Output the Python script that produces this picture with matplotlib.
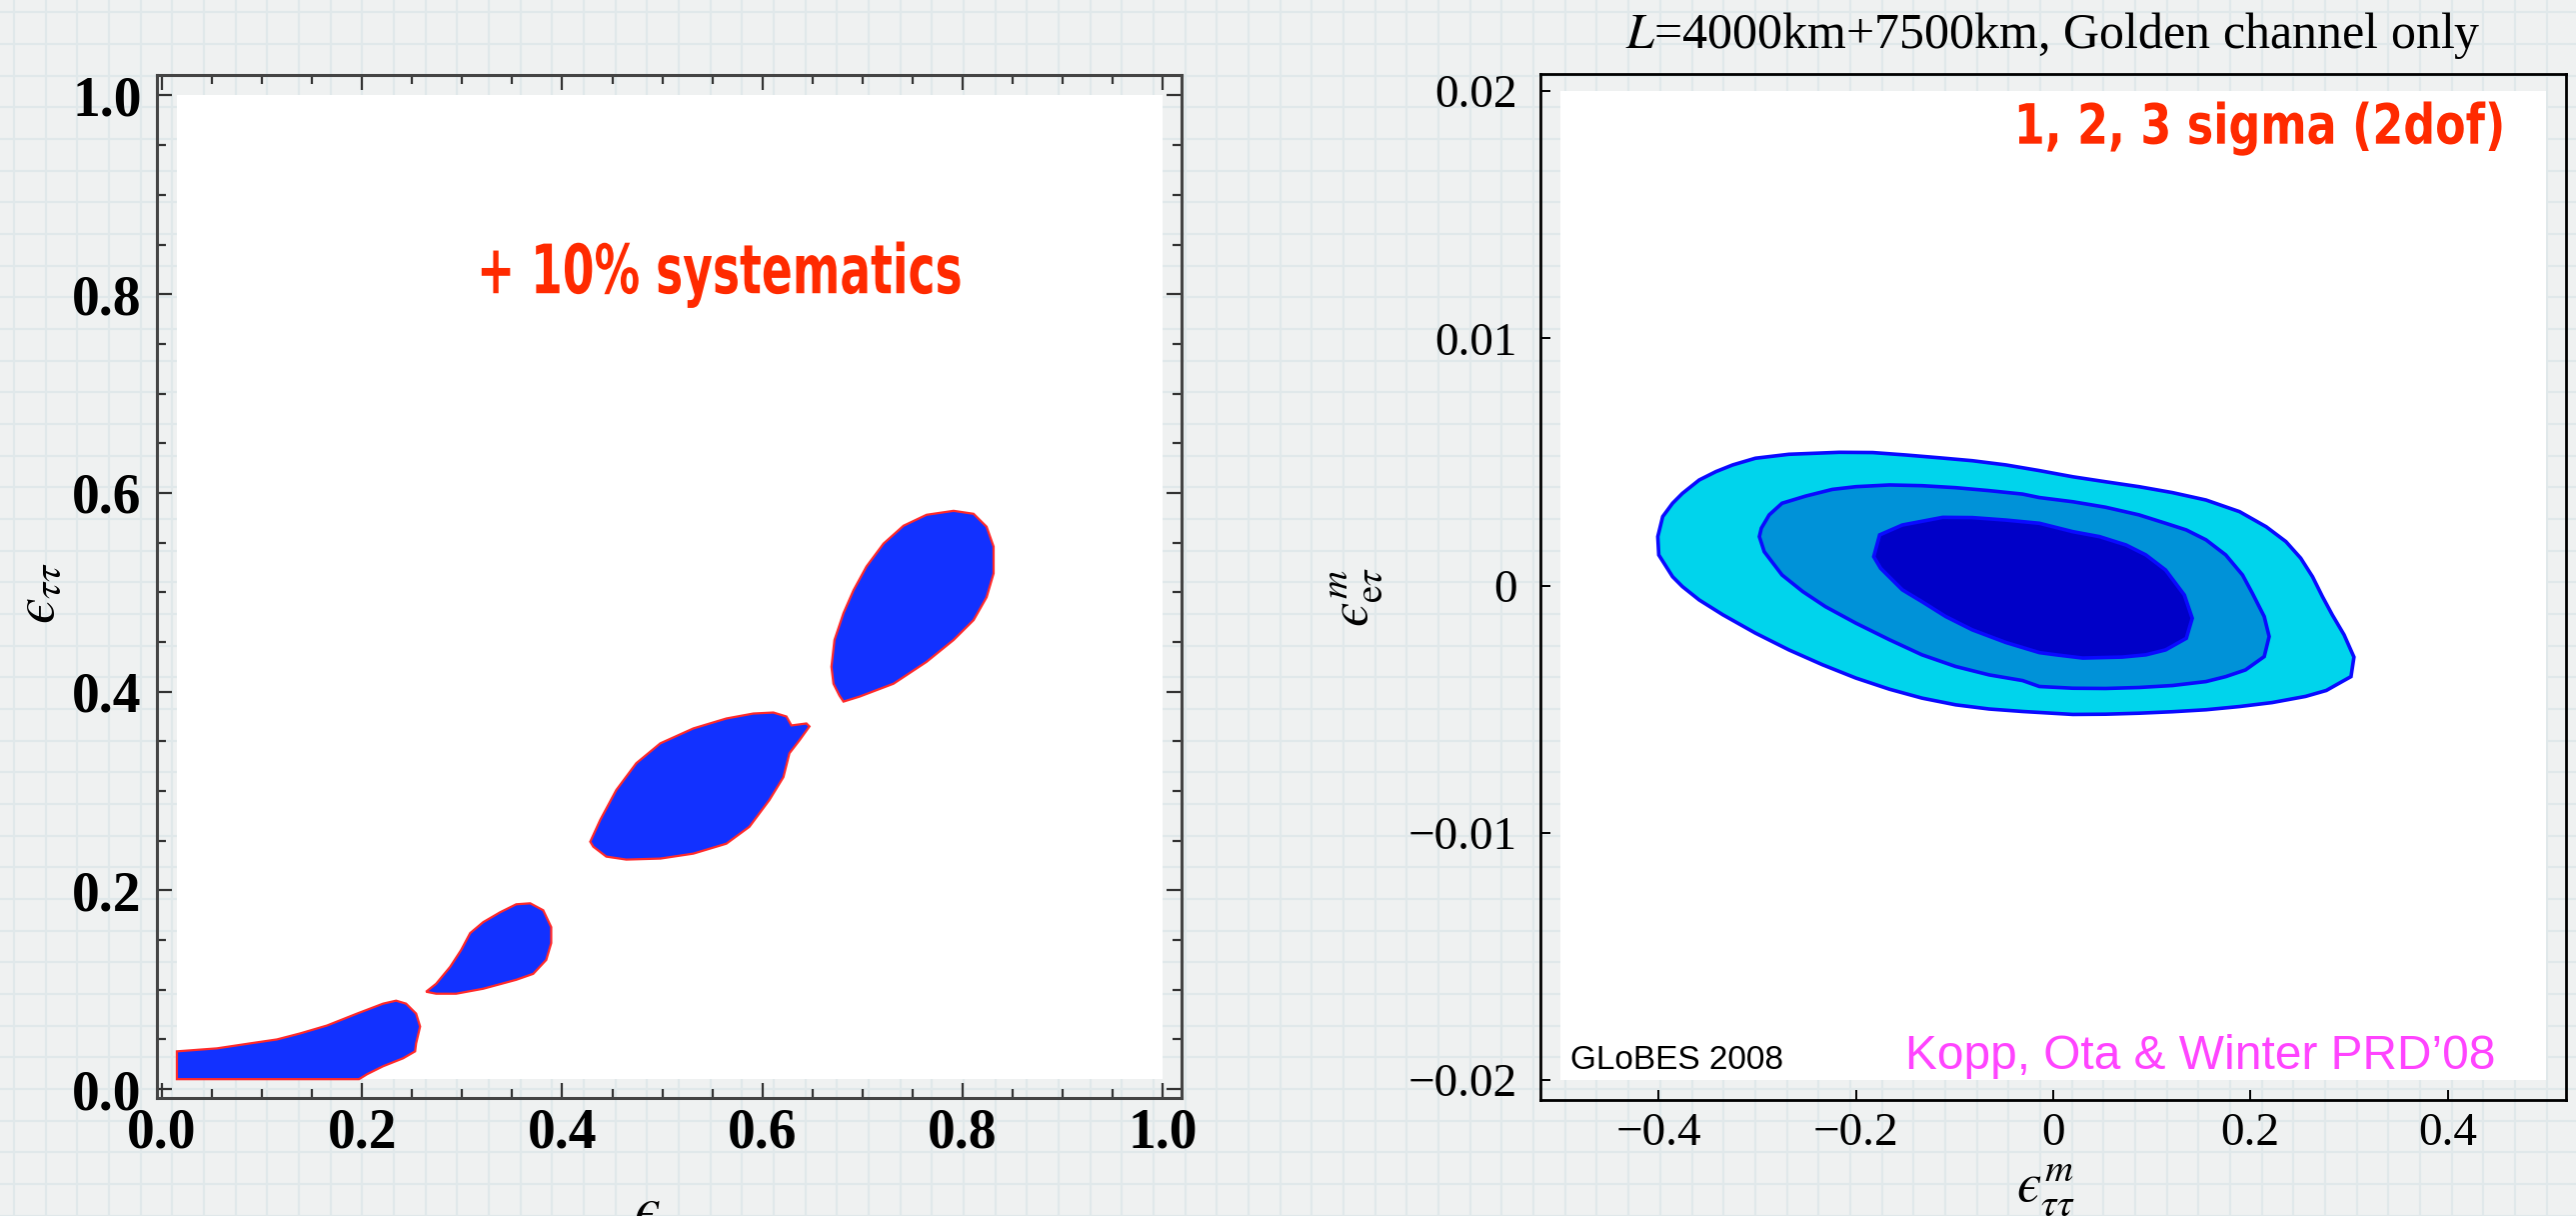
import matplotlib
matplotlib.use("Agg")
import matplotlib.pyplot as plt
import numpy as np
from matplotlib.patches import Rectangle, Polygon
from matplotlib.patheffects import AbstractPathEffect
from matplotlib.transforms import Affine2D

plt.rcParams['mathtext.fontset'] = 'stix'

# ---- left panel: allowed regions in the (eps, eps_tautau) plane, +10% systematics ----
left_ticks = [0.0, 0.2, 0.4, 0.6, 0.8, 1.0]
left_tick_labels = ['0.0', '0.2', '0.4', '0.6', '0.8', '1.0']

blob1_x = [0.015, 0.055, 0.088, 0.115, 0.138, 0.165, 0.195, 0.221, 0.234, 0.244,
           0.254, 0.258, 0.254, 0.253, 0.241, 0.221, 0.205, 0.197, 0.015]
blob1_y = [0.038, 0.041, 0.046, 0.050, 0.056, 0.064, 0.076, 0.086, 0.089, 0.086,
           0.076, 0.063, 0.046, 0.038, 0.031, 0.023, 0.015, 0.010, 0.010]

blob2_x = [0.264, 0.274, 0.288, 0.299, 0.308, 0.321, 0.338, 0.354, 0.368, 0.381,
           0.389, 0.389, 0.384, 0.371, 0.354, 0.321, 0.294, 0.274]
blob2_y = [0.098, 0.106, 0.123, 0.140, 0.157, 0.168, 0.178, 0.186, 0.187, 0.180,
           0.163, 0.147, 0.130, 0.116, 0.110, 0.101, 0.096, 0.096]

blob3_x = [0.428, 0.438, 0.454, 0.474, 0.498, 0.531, 0.564, 0.591, 0.611, 0.624,
           0.629, 0.644, 0.647, 0.637, 0.627, 0.621, 0.607, 0.587, 0.564, 0.531,
           0.498, 0.464, 0.444, 0.431]
blob3_y = [0.249, 0.271, 0.301, 0.328, 0.348, 0.363, 0.373, 0.378, 0.379, 0.375,
           0.366, 0.368, 0.365, 0.351, 0.338, 0.314, 0.291, 0.264, 0.247, 0.237,
           0.232, 0.231, 0.234, 0.244]

blob4_x = [0.681, 0.677, 0.671, 0.669, 0.672, 0.681, 0.691, 0.704, 0.721, 0.741,
           0.764, 0.791, 0.811, 0.824, 0.831, 0.831, 0.824, 0.811, 0.791, 0.764,
           0.731, 0.697]
blob4_y = [0.390, 0.396, 0.408, 0.425, 0.452, 0.479, 0.502, 0.526, 0.549, 0.567,
           0.578, 0.582, 0.579, 0.566, 0.546, 0.519, 0.495, 0.472, 0.452, 0.430,
           0.408, 0.395]

# ---- right panel: 1, 2, 3 sigma contours in (eps^m_tautau, eps^m_etau) ----
right_xticks = [-0.4, -0.2, 0.0, 0.2, 0.4]
right_xtick_labels = ['\u22120.4', '\u22120.2', '0', '0.2', '0.4']
right_yticks = [-0.02, -0.01, 0.0, 0.01, 0.02]
right_ytick_labels = ['\u22120.02', '\u22120.01', '0', '0.01', '0.02']

sig3_x = [-0.401, -0.396, -0.386, -0.376, -0.359, -0.342, -0.325, -0.302, -0.268,
          -0.217, -0.183, -0.149, -0.116, -0.082, -0.048, -0.014, 0.020, 0.053,
          0.087, 0.121, 0.155, 0.189, 0.216, 0.236, 0.251, 0.263, 0.273, 0.283,
          0.295, 0.305, 0.302, 0.293, 0.277, 0.256, 0.222, 0.189, 0.155, 0.121,
          0.087, 0.053, 0.020, -0.014, -0.031, -0.065, -0.099, -0.133, -0.166,
          -0.200, -0.234, -0.268, -0.302, -0.335, -0.359, -0.376, -0.386, -0.400]
sig3_y = [0.00198, 0.00279, 0.00333, 0.00373, 0.00427, 0.00461, 0.00488, 0.00515,
          0.00531, 0.00539, 0.00538, 0.00528, 0.00517, 0.00505, 0.00488, 0.00465,
          0.00440, 0.00420, 0.00400, 0.00376, 0.00346, 0.00299, 0.00238, 0.00178,
          0.00111, 0.00036, -0.00044, -0.00118, -0.00199, -0.00289, -0.00368,
          -0.00388, -0.00424, -0.00448, -0.00473, -0.00489, -0.00502, -0.00510,
          -0.00516, -0.00520, -0.00521, -0.00513, -0.00509, -0.00499, -0.00482,
          -0.00455, -0.00419, -0.00374, -0.00320, -0.00260, -0.00192, -0.00118,
          -0.00058, -0.00004, 0.00036, 0.00124]

sig2_x = [-0.298, -0.296, -0.288, -0.275, -0.251, -0.224, -0.200, -0.166, -0.133,
          -0.099, -0.065, -0.031, -0.014, 0.020, 0.053, 0.087, 0.114, 0.135, 0.155,
          0.175, 0.192, 0.202, 0.214, 0.219, 0.214, 0.195, 0.175, 0.155, 0.121,
          0.087, 0.053, 0.020, -0.014, -0.031, -0.065, -0.099, -0.133, -0.166,
          -0.200, -0.231, -0.254, -0.275, -0.293]
sig2_y = [0.00198, 0.00232, 0.00286, 0.00333, 0.00362, 0.00389, 0.00400, 0.00407,
          0.00404, 0.00396, 0.00384, 0.00370, 0.00356, 0.00339, 0.00317, 0.00286,
          0.00252, 0.00225, 0.00185, 0.00124, 0.00043, -0.00031, -0.00125, -0.00206,
          -0.00287, -0.00341, -0.00368, -0.00388, -0.00404, -0.00412, -0.00416,
          -0.00415, -0.00408, -0.00384, -0.00361, -0.00327, -0.00280, -0.00219,
          -0.00152, -0.00085, -0.00024, 0.00043, 0.00137]

sig1_x = [-0.182, -0.176, -0.153, -0.112, -0.082, -0.048, -0.014, 0.020, 0.047,
          0.074, 0.094, 0.114, 0.133, 0.141, 0.135, 0.114, 0.094, 0.070, 0.030,
          0.003, -0.014, -0.048, -0.082, -0.109, -0.133, -0.153, -0.175]
sig1_y = [0.00117, 0.00205, 0.00245, 0.00276, 0.00275, 0.00265, 0.00252, 0.00218,
          0.00198, 0.00164, 0.00124, 0.00063, -0.00038, -0.00132, -0.00213, -0.00260,
          -0.00280, -0.00289, -0.00293, -0.00280, -0.00271, -0.00230, -0.00179,
          -0.00125, -0.00065, -0.00017, 0.00070]

serif = 'Liberation Serif'


class Condensed(AbstractPathEffect):
    """Squeeze text glyphs horizontally about its left, centre or right end."""

    def __init__(self, sx, anchor='left'):
        super().__init__()
        self.sx = sx
        self.anchor = anchor

    def draw_path(self, renderer, gc, tpath, affine, rgbFace=None):
        ext = tpath.get_extents()
        x0 = {'left': ext.x0, 'center': 0.5 * (ext.x0 + ext.x1),
              'right': ext.x1}[self.anchor]
        squeeze = Affine2D().translate(-x0, 0).scale(self.sx, 1.0).translate(x0, 0)
        renderer.draw_path(gc, tpath, squeeze + affine, rgbFace)


fig = plt.figure(figsize=(25.77, 12.16), dpi=100)
fig.patch.set_facecolor('#eff1f1')

# graph-paper background
bg = fig.add_axes([0, 0, 1, 1], zorder=-10)
bg.set_xlim(0, 2577)
bg.set_ylim(1216, 0)
bg.axis('off')
for gx in np.arange(14, 2577, 31.67):
    bg.axvline(gx, color='#e0e8ea', lw=1.6)
for gy in np.arange(12.3, 1216, 31.67):
    bg.axhline(gy, color='#e0e8ea', lw=1.6)

# ---------------- left panel ----------------
ax1 = fig.add_axes([0.0609, 0.0970, 0.3977, 0.8413])
ax1.set_facecolor('none')
ax1.set_xlim(-0.005, 1.0186)
ax1.set_ylim(-0.009, 1.0206)
ax1.add_patch(Rectangle((0.015, 0.01), 0.985, 0.99, facecolor='white',
                        edgecolor='none', zorder=0))
for bx, by in [(blob1_x, blob1_y), (blob2_x, blob2_y),
               (blob3_x, blob3_y), (blob4_x, blob4_y)]:
    ax1.add_patch(Polygon(np.column_stack([bx, by]), closed=True,
                          facecolor='#1231ff', edgecolor='#ff2a2a',
                          lw=1.6, zorder=2))

ax1.set_xticks(left_ticks)
ax1.set_xticklabels(left_tick_labels)
ax1.set_yticks(left_ticks)
ax1.set_yticklabels(left_tick_labels)
ax1.set_xticks(np.arange(0, 1.001, 0.05), minor=True)
ax1.set_yticks(np.arange(0, 1.001, 0.05), minor=True)
ax1.tick_params(which='both', direction='in', top=True, right=True,
                color='#333333', width=1.6)
ax1.tick_params(which='major', length=11)
ax1.tick_params(which='minor', length=6.5)
ax1.tick_params(axis='x', pad=7)
ax1.tick_params(axis='y', pad=11)
for lab in ax1.get_xticklabels() + ax1.get_yticklabels():
    lab.set_fontfamily(serif)
    lab.set_fontweight('bold')
    lab.set_fontsize(40)
for sp in ax1.spines.values():
    sp.set_color('#444444')
    sp.set_linewidth(2.2)

ax1.text(-0.116, 0.494, r'$ϵ_{\tau\tau}$', transform=ax1.transAxes,
         rotation=90, ha='center', va='center', fontsize=42)
ax1.text(0.478, -0.11, r'$ϵ$', transform=ax1.transAxes,
         ha='center', va='center', fontsize=42)
ax1.text(0.556, 0.801, '+ 10% systematics', color='#ff2a00', fontsize=49,
         fontweight='bold', family='DejaVu Sans', ha='center', va='baseline',
         path_effects=[Condensed(0.67, 'center')])

# ---------------- right panel ----------------
ax2 = fig.add_axes([0.598, 0.0954, 0.3981, 0.844])
ax2.set_facecolor('none')
ax2.set_xlim(-0.52, 0.52)
ax2.set_ylim(-0.0208, 0.0207)
ax2.add_patch(Rectangle((-0.5, -0.02), 1.0, 0.04, facecolor='white',
                        edgecolor='none', zorder=0))
for cx, cy, col in [(sig3_x, sig3_y, '#00d4ec'),
                    (sig2_x, sig2_y, '#0092d8'),
                    (sig1_x, sig1_y, '#0000c8')]:
    ax2.fill(cx, cy, facecolor=col, edgecolor='#0a0aff', lw=2.6, zorder=2)

ax2.set_xticks(right_xticks)
ax2.set_xticklabels(right_xtick_labels)
ax2.set_yticks(right_yticks)
ax2.set_yticklabels(right_ytick_labels)
ax2.tick_params(direction='in', length=7, width=1.4, color='black')
ax2.tick_params(axis='x', pad=9)
ax2.tick_params(axis='y', pad=17)
for lab in ax2.get_xticklabels() + ax2.get_yticklabels():
    lab.set_fontfamily(serif)
    lab.set_fontsize(34)
for sp in ax2.spines.values():
    sp.set_color('black')
    sp.set_linewidth(2.0)

ax2.text(0.5, 1.025, r'$L$=4000km+7500km, Golden channel only',
         transform=ax2.transAxes, ha='center', va='baseline',
         fontsize=36, family=serif)
ax2.text(-0.179, 0.490, r'$ϵ^{m}_{\mathrm{e}\tau}$', transform=ax2.transAxes,
         rotation=90, ha='center', va='center', fontsize=40)
ax2.text(0.493, -0.0877, r'$ϵ^{m}_{\tau\tau}$', transform=ax2.transAxes,
         ha='center', va='center', fontsize=40)
ax2.text(0.459, 0.01787, '1, 2, 3 sigma (2dof)', color='#ff2a00', fontsize=40,
         fontweight='bold', family='DejaVu Sans', ha='right', va='baseline',
         path_effects=[Condensed(0.80, 'right')])
ax2.text(-0.490, -0.01953, 'GLoBES 2008', fontsize=24, family='Liberation Sans',
         ha='left', va='baseline', color='black')
ax2.text(0.449, -0.01953, 'Kopp, Ota & Winter PRD\u201908', fontsize=34.5,
         family='Liberation Sans', ha='right', va='baseline', color='#ff44ff')

fig.savefig('out.png', dpi=100, facecolor=fig.get_facecolor())
